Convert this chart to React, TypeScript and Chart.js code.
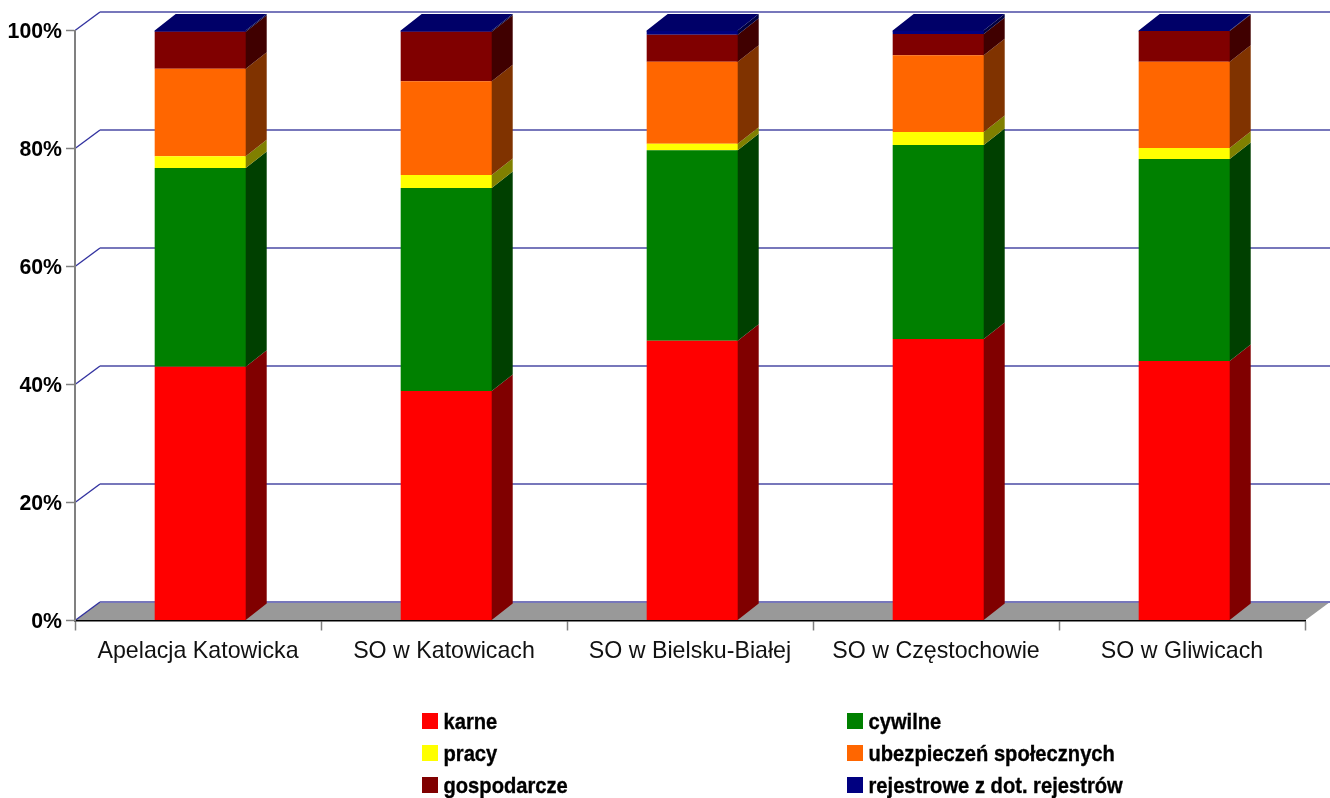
import React, { useEffect, useRef } from "react";
import { Chart, registerables } from "chart.js";

Chart.register(...registerables);

const categories = ["Apelacja Katowicka", "SO w Katowicach", "SO w Bielsku-Białej", "SO w Częstochowie", "SO w Gliwicach"];
const karne = [43.0, 38.9, 47.4, 47.7, 44.0];
const cywilne = [33.7, 34.4, 32.3, 32.9, 34.2];
const pracy = [2.0, 2.2, 1.1, 2.2, 1.9];
const ubezpieczenia = [14.8, 15.9, 13.9, 13.0, 14.6];
const gospodarcze = [6.3, 8.4, 4.6, 3.6, 5.2];
const rejestrowe = [0.2, 0.2, 0.7, 0.6, 0.1];

const seriesLabels = ["karne", "cywilne", "pracy", "ubezpieczeń społecznych", "gospodarcze", "rejestrowe z dot. rejestrów"];
const seriesValues = [karne, cywilne, pracy, ubezpieczenia, gospodarcze, rejestrowe];
const seriesColors = ["#FF0000", "#008000", "#FFFF00", "#FF6600", "#800000", "#000080"];
const sideColors = ["#800000", "#004000", "#808000", "#803300", "#400000", "#000040"];
const topColor = "#000068";

const WALL_DX = 25;
const WALL_DY = 18.5;
const BAR_DX = 21;
const BAR_DY = 16.5;
const BAR_SHIFT = 2.2;
const Y_LABEL_SHIFT = 1.5;
const FONT = '"Liberation Sans", Arial, sans-serif';

const legendCols = [422, 847];
const legendRows = [721, 753, 785];
const LEGEND_SQUEEZE = 0.9;

const poly = (ctx: CanvasRenderingContext2D, pts: number[][], fill: string) => {
  ctx.fillStyle = fill;
  ctx.beginPath();
  pts.forEach(([x, y], i) => (i ? ctx.lineTo(x, y) : ctx.moveTo(x, y)));
  ctx.closePath();
  ctx.fill();
};

const plot3d = {
  id: "plot3d",
  afterDatasetsUpdate(chart: any) {
    chart.data.datasets.forEach((_: any, i: number) => {
      chart.getDatasetMeta(i).data.forEach((el: any) => {
        el.x += BAR_SHIFT;
      });
    });
  },
  beforeDraw(chart: any) {
    const ctx: CanvasRenderingContext2D = chart.ctx;
    const { left, right } = chart.chartArea;
    const y = chart.scales.y;
    const y0 = y.getPixelForValue(0);
    y.getLabelItems(chart.chartArea).forEach((it: any) => {
      if (!it.__shifted) {
        it.options.translation[1] += Y_LABEL_SHIFT;
        it.__shifted = true;
      }
    });
    ctx.save();
    poly(ctx, [[left, y0], [left + WALL_DX, y0 - WALL_DY], [right + WALL_DX, y0 - WALL_DY], [right, y0]], "#999999");
    y.ticks.forEach((t: any) => {
      const py = y.getPixelForValue(t.value);
      ctx.strokeStyle = "#3333a0";
      ctx.lineWidth = 1.4;
      ctx.beginPath();
      ctx.moveTo(left, py);
      ctx.lineTo(left + WALL_DX, py - WALL_DY);
      ctx.stroke();
      ctx.strokeStyle = "#7777bb";
      ctx.lineWidth = 2;
      ctx.beginPath();
      ctx.moveTo(left + WALL_DX, py - WALL_DY);
      ctx.lineTo(right + WALL_DX, py - WALL_DY);
      ctx.stroke();
    });
    ctx.restore();
  },
  beforeDatasetsDraw(chart: any) {
    const ctx: CanvasRenderingContext2D = chart.ctx;
    // side and top faces of the bars
    ctx.save();
    const last = chart.data.datasets.length - 1;
    chart.data.datasets.forEach((_: any, i: number) => {
      chart.getDatasetMeta(i).data.forEach((el: any) => {
        const xr = el.x + el.width / 2;
        const xl = el.x - el.width / 2;
        poly(ctx, [[xr - 1, el.base], [xr, el.base], [xr + BAR_DX, el.base - BAR_DY], [xr + BAR_DX, el.y - BAR_DY], [xr, el.y], [xr - 1, el.y]], sideColors[i]);
        if (i === last) {
          poly(ctx, [[xl, el.y + 1], [xl, el.y], [xl + BAR_DX, el.y - BAR_DY], [xr + BAR_DX, el.y - BAR_DY], [xr, el.y], [xr, el.y + 1]], topColor);
        }
      });
    });
    ctx.restore();
  },
  afterDraw(chart: any) {
    const ctx: CanvasRenderingContext2D = chart.ctx;
    chart.data.datasets.forEach((ds: any, i: number) => {
      const x = legendCols[i % 2];
      const y = legendRows[Math.floor(i / 2)];
      ctx.save();
      ctx.fillStyle = ds.backgroundColor;
      ctx.fillRect(x, y - 8, 16, 16);
      ctx.fillStyle = "#000000";
      ctx.strokeStyle = "#000000";
      ctx.lineWidth = 0.35;
      ctx.font = `bold 22.4px ${FONT}`;
      ctx.textBaseline = "alphabetic";
      ctx.textAlign = "left";
      ctx.translate(x + 21.5, y + 8);
      ctx.scale(LEGEND_SQUEEZE, 1);
      ctx.fillText(ds.label, 0, 0);
      ctx.strokeText(ds.label, 0, 0);
      ctx.restore();
    });
  },
};

export default function App() {
  const ref = useRef<HTMLCanvasElement>(null);
  useEffect(() => {
    const chart = new Chart(ref.current as HTMLCanvasElement, {
      type: "bar",
      plugins: [plot3d],
      data: {
        labels: categories,
        datasets: seriesLabels.map((label, i) => ({
          label,
          data: seriesValues[i],
          backgroundColor: seriesColors[i],
          borderWidth: 0,
          barPercentage: 0.37,
          categoryPercentage: 1,
        })),
      },
      options: {
        responsive: false,
        animation: false,
        layout: { padding: { top: 30.5, right: 25, left: 0, bottom: 0 } },
        plugins: { legend: { display: false }, tooltip: { enabled: false }, title: { display: false } },
        scales: {
          x: {
            stacked: true,
            afterFit: (s: any) => { s.height = 177.5; },
            grid: { drawOnChartArea: false, drawTicks: true, tickLength: 10, tickColor: "#808080", tickWidth: 1.5 },
            border: { color: "#000000", width: 1.5 },
            ticks: { color: "#111111", font: { family: FONT, size: 23.2 }, padding: 7, maxRotation: 0, autoSkip: false },
          },
          y: {
            stacked: true,
            min: 0,
            max: 100,
            afterFit: (s: any) => { s.width = 75; },
            grid: { drawOnChartArea: false, drawTicks: true, tickLength: 9, tickColor: "#808080", tickWidth: 1.5 },
            border: { color: "#808080", width: 2 },
            ticks: {
              stepSize: 20,
              color: "#000000",
              padding: 4,
              font: { family: FONT, size: 21.3, weight: "bold" },
              callback: (v: any) => `${v}%`,
            },
          },
        },
      },
    } as any);
    return () => chart.destroy();
  }, []);
  return (
    <div style={{ position: "absolute", left: 0, top: 0, width: 1330, height: 798, background: "#ffffff" }}>
      <canvas ref={ref} width={1330} height={798} style={{ display: "block" }} />
    </div>
  );
}
